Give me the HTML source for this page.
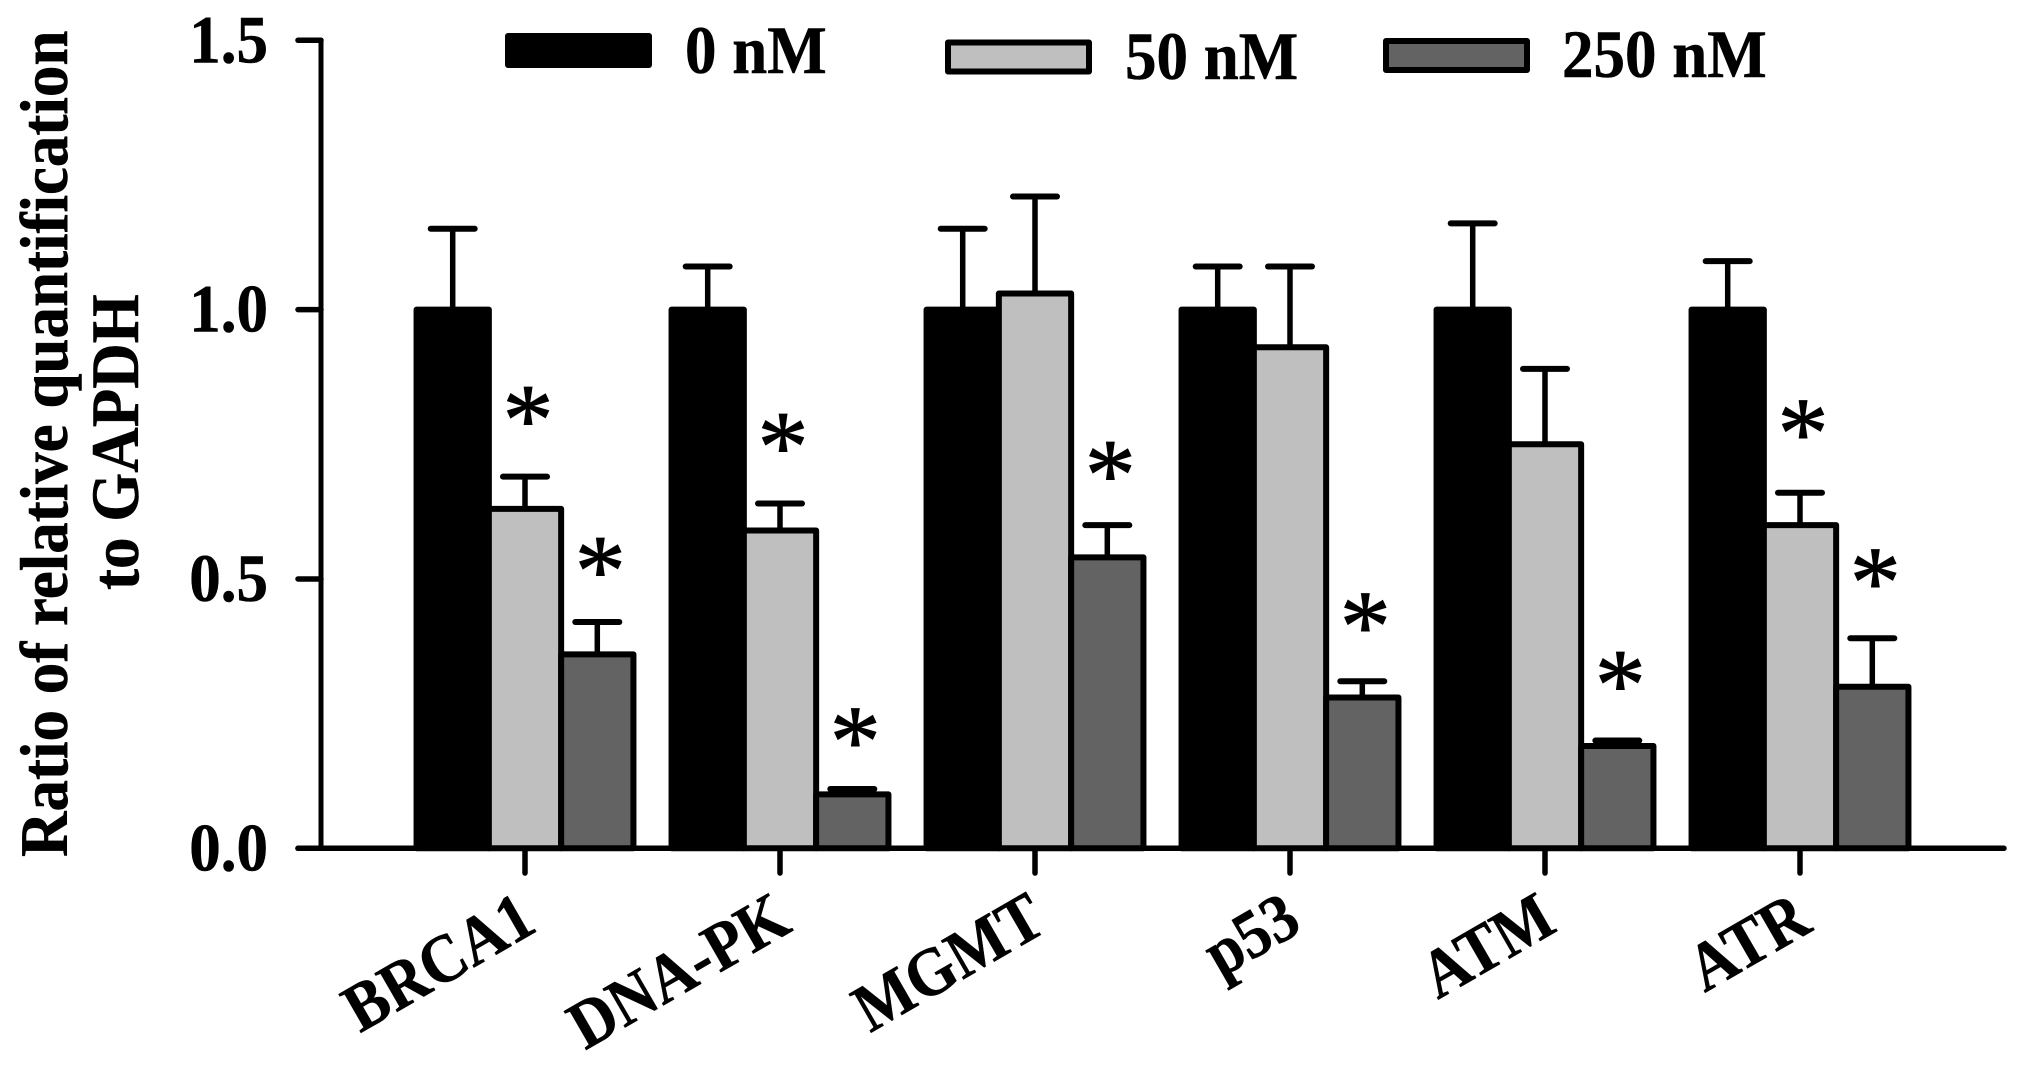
<!DOCTYPE html>
<html lang="en">
<head>
<meta charset="utf-8">
<title>Ratio of relative quantification to GAPDH</title>
<style>
html,body{margin:0;padding:0;background:#fff;width:2031px;height:1071px;overflow:hidden}
svg{display:block}
text{font-family:"Liberation Serif","Times New Roman",serif;font-weight:bold;font-size:63px;fill:#000;stroke:#000;stroke-width:0.5px}
</style>
</head>
<body>
<svg id="chart" xmlns="http://www.w3.org/2000/svg" width="2031" height="1071" viewBox="0 0 2031 1071">
  <rect x="0" y="0" width="2031" height="1071" fill="#fff"/>
  <g id="marks"></g>
  <g id="axes" stroke="#000" stroke-linecap="round" fill="none"></g>
  <g id="labels"></g>
  <g>
    <text transform="translate(67,857) rotate(-90) scale(1,1.07)">Ratio of relative quantification</text>
    <text transform="translate(138,590) rotate(-90) scale(1,1.07)">to GAPDH</text>
  </g>
  <g>
    <g>
      <rect x="508" y="36" width="141" height="29" fill="#000" stroke="#000" stroke-width="6" stroke-linejoin="round"/>
      <text transform="translate(685,73) scale(1,1.07)">0 nM</text>
    </g>
    <g>
      <rect x="948" y="42.5" width="141" height="29" fill="#bfbfbf" stroke="#000" stroke-width="6" stroke-linejoin="round"/>
      <text transform="translate(1125,79) scale(1,1.07)">50 nM</text>
    </g>
    <g>
      <rect x="1386" y="41" width="141" height="29" fill="#636363" stroke="#000" stroke-width="6" stroke-linejoin="round"/>
      <text transform="translate(1562,77) scale(1,1.07)">250 nM</text>
    </g>
  </g>
</svg>
<script>
var categories = ["BRCA1", "DNA-PK", "MGMT", "p53", "ATM", "ATR"];
var yTickValues = [0, 0.5, 1.0, 1.5];
var yTickLabels = ["0.0", "0.5", "1.0", "1.5"];
var values0nM = [1.00, 1.00, 1.00, 1.00, 1.00, 1.00];
var values50nM = [0.63, 0.59, 1.03, 0.93, 0.75, 0.60];
var values250nM = [0.36, 0.10, 0.54, 0.28, 0.19, 0.30];
var errorTops0nM = [1.15, 1.08, 1.15, 1.08, 1.16, 1.09];
var errorTops50nM = [0.69, 0.64, 1.21, 1.08, 0.89, 0.66];
var errorTops250nM = [0.42, 0.11, 0.60, 0.31, 0.20, 0.39];
var starLevels50nM = [0.821, 0.771, null, null, null, 0.796];
var starLevels250nM = [0.541, 0.224, 0.719, 0.438, 0.329, 0.519];

var NS = "http://www.w3.org/2000/svg";
var marks = document.getElementById("marks");
var axes = document.getElementById("axes");
var labels = document.getElementById("labels");

function yScale(v) { return 848.3 - v * 538.7; }
function xCenter(i) { return 525 + i * 255; }
var slot = 72.3;
var yMin = yScale(0);

function make(parent, tag, attrs) {
  var el = document.createElementNS(NS, tag);
  for (var k in attrs) { el.setAttribute(k, attrs[k]); }
  parent.appendChild(el);
  return el;
}

var seriesList = [
  { key: "0-nm", fill: "#000000", vals: values0nM, errs: errorTops0nM, stars: null },
  { key: "50-nm", fill: "#bfbfbf", vals: values50nM, errs: errorTops50nM, stars: starLevels50nM },
  { key: "250-nm", fill: "#636363", vals: values250nM, errs: errorTops250nM, stars: starLevels250nM }
];

categories.forEach(function (cat, i) {
  seriesList.forEach(function (s, j) {
    var cx = xCenter(i) + (j - 1) * slot;
    var left = cx - slot / 2;
    var top = yScale(s.vals[i]);
    var errY = yScale(s.errs[i]);

    var stem = make(marks, "line", { x1: cx, x2: cx, y1: top, y2: errY, stroke: "#000", "stroke-width": 5.5 });
    
    

    var cap = make(marks, "line", { x1: cx - 22, x2: cx + 22, y1: errY, y2: errY, stroke: "#000", "stroke-width": 6, "stroke-linecap": "round" });
    
    

    var bar = make(marks, "rect", { x: left, y: top, width: slot, height: yMin - top, fill: s.fill, stroke: "#000", "stroke-width": 6, "stroke-linejoin": "round" });
    
    

    if (s.stars && s.stars[i] !== null) {
      var star = make(labels, "text", { x: cx + 3, y: yScale(s.stars[i]) + 48, "text-anchor": "middle", style: "font-size:102px;font-weight:normal;stroke-width:1px" });
      
      
      star.textContent = "*";
    }
  });

  var tick = make(axes, "line", { x1: xCenter(i), x2: xCenter(i), y1: yMin, y2: 873, "stroke-width": 5.5 });
  
  

  var lx = xCenter(i) + 14;
  var lab = make(labels, "text", { "text-anchor": "end", transform: "translate(" + lx + ",930) rotate(-30) scale(1,1.1)", style: "font-size:62px" });
  
  
  lab.textContent = cat;
});

yTickValues.forEach(function (v, i) {
  var y = yScale(v);
  var t = make(axes, "line", { x1: 298, x2: 321, y1: y, y2: y, "stroke-width": 5.5 });
  
  

  var lab = make(labels, "text", { "text-anchor": "end", transform: "translate(268," + (y + 22) + ") scale(1,1.07)" });
  
  
  lab.textContent = yTickLabels[i];
});

var yAxis = make(axes, "line", { x1: 321, x2: 321, y1: yScale(1.5), y2: yMin, "stroke-width": 5 });



var xAxis = make(axes, "line", { x1: 298, x2: 2004, y1: yMin, y2: yMin, "stroke-width": 5.5 });


</script>
</body>
</html>
